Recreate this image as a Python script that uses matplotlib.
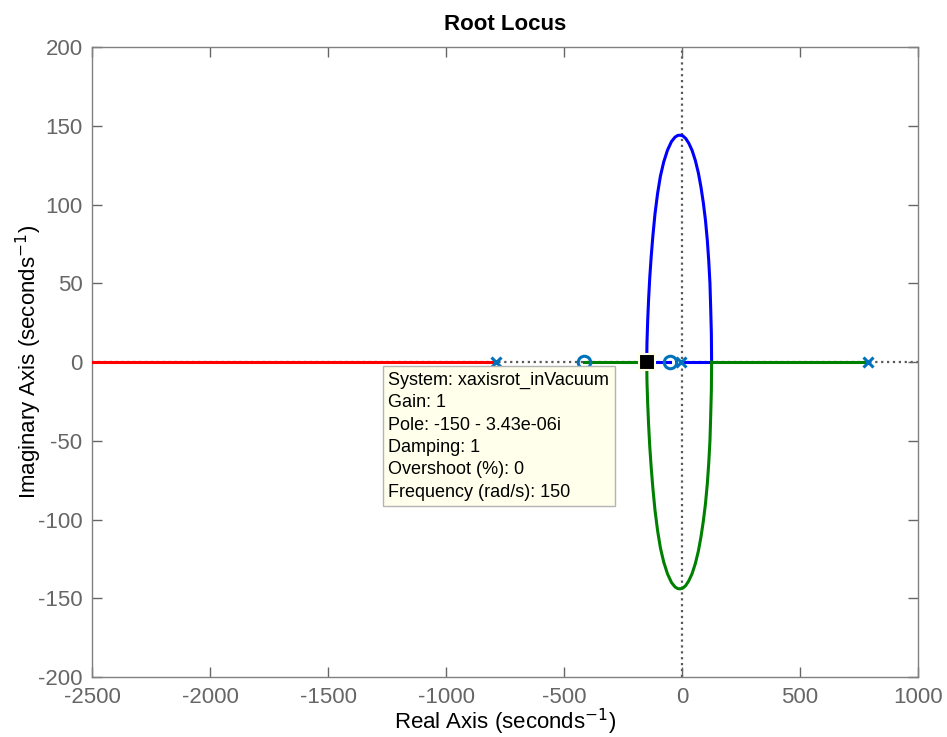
import numpy as np
import matplotlib
matplotlib.use('Agg')
from matplotlib import pyplot as plt

plt.rcParams['font.family'] = ['Liberation Sans', 'DejaVu Sans']
plt.rcParams['axes.unicode_minus'] = False

# open-loop poles and zeros
poles = [-790, -5, 790]
zeros = [-416, -50]

# upper half of the complex branch (lower half is its conjugate)
arc_x = [-150, -149, -146, -142, -137, -131, -124, -115, -104, -92, -78, -62,
         -45, -30, -18, -8, 3, 15, 28, 42, 56, 69, 80, 90, 99, 107, 113,
         118, 121, 124, 125]
arc_y = [0, 12, 26, 40, 54, 67, 80, 94, 107, 118, 127, 134.5,
         140, 142.8, 143.9, 144, 143.6, 142, 139, 134.5, 128, 120, 111, 101, 90, 77, 64,
         50, 35, 18, 0]

# real-axis pieces of each branch
red_real = [-790, -2600]
blue_real_a = [-5, 125]
blue_real_b = [-150, -50]
green_real_a = [790, 125]
green_real_b = [-150, -416]

# selected point
tip_x, tip_y = -150, 0
tip_lines = ['System: xaxisrot_inVacuum', 'Gain: 1', 'Pole: -150 - 3.43e-06i',
             'Damping: 1', 'Overshoot (%): 0', 'Frequency (rad/s): 150']

xticks = [-2500, -2000, -1500, -1000, -500, 0, 500, 1000]
yticks = [-200, -150, -100, -50, 0, 50, 100, 150, 200]

fig = plt.figure(figsize=(9.47, 7.37), dpi=100)
ax = fig.add_axes([0.0975, 0.0814, 0.8719, 0.8548])

# dotted reference axes
ax.axhline(0, color='0.35', ls=':', lw=1.6, zorder=1)
ax.axvline(0, color='0.35', ls=':', lw=1.6, zorder=1)

lw = 2.2
blue = (0, 0, 1)
green = (0, 0.5, 0)
red = (1, 0, 0)

ax.plot(red_real, [0, 0], color=red, lw=lw, zorder=3)
ax.plot(blue_real_a, [0, 0], color=blue, lw=lw, zorder=3)
ax.plot(blue_real_b, [0, 0], color=blue, lw=lw, zorder=3)
ax.plot(green_real_a, [0, 0], color=green, lw=lw, zorder=3)
ax.plot(green_real_b, [0, 0], color=green, lw=lw, zorder=3)
ax.plot(arc_x, arc_y, color=blue, lw=lw, zorder=3)
ax.plot(arc_x, [-v for v in arc_y], color=green, lw=lw, zorder=3)

mcol = '#0072BD'
ax.plot(poles, [0] * len(poles), 'x', color=mcol, ms=7, mew=2.2, zorder=5)
ax.plot(zeros, [0] * len(zeros), 'o', color=mcol, mfc='none', ms=9, mew=2.2, zorder=5)

# data tip
ax.plot(tip_x, tip_y, 's', color='k', mec='#ffffe5', mew=1.5, ms=12, zorder=6)
ax.text(-1245, -6, '\n'.join(tip_lines), fontsize=13, va='top', ha='left',
        linespacing=1.42, zorder=7,
        bbox=dict(boxstyle='square,pad=0.3', fc='#ffffeb', ec='#b4b4b4', lw=1))

ax.set_xlim(-2500, 1000)
ax.set_ylim(-200, 200)
ax.set_xticks(xticks)
ax.set_yticks(yticks)
ax.tick_params(direction='in', length=7, width=1, colors='0.4', labelsize=16,
               top=True, right=True, pad=7)
for s in ax.spines.values():
    s.set_color('0.5')
    s.set_linewidth(1)

ax.set_title('Root Locus', fontsize=16, fontweight='bold', pad=12)
ax.set_xlabel('Real Axis (seconds$^{-1}$)', fontsize=16, labelpad=-1)
ax.set_ylabel('Imaginary Axis (seconds$^{-1}$)', fontsize=16, labelpad=-4)

fig.savefig('out.png', dpi=100)
